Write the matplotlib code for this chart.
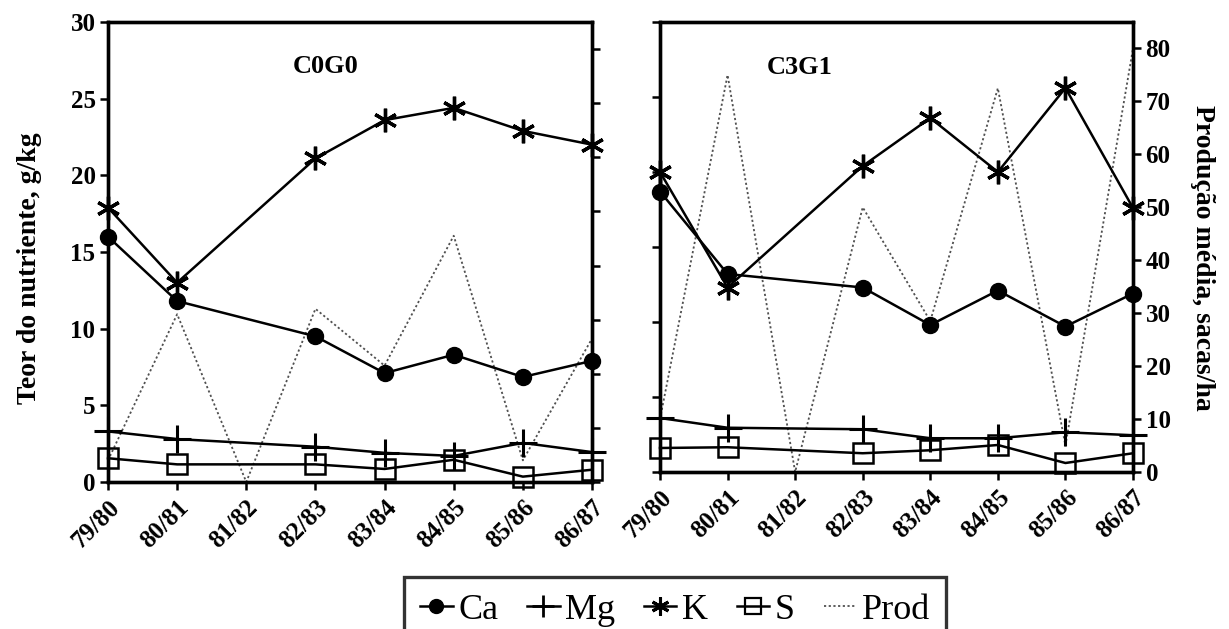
import numpy as np
import matplotlib
matplotlib.use("Agg")
import matplotlib.pyplot as plt
from matplotlib.lines import Line2D

plt.rcParams['font.family'] = ['Liberation Serif', 'DejaVu Serif']

years = ["79/80", "80/81", "81/82", "82/83", "83/84", "84/85", "85/86", "86/87"]

# Panel C0G0 (nutrients in g/kg; None = not sampled)
ca_c0g0 = [16.0, 11.8, None, 9.5, 7.1, 8.3, 6.85, 7.9]
mg_c0g0 = [3.3, 2.8, None, 2.3, 1.9, 1.7, 2.55, 1.95]
k_c0g0 = [17.9, 13.0, None, 21.1, 23.6, 24.4, 22.9, 22.0]
s_c0g0 = [1.55, 1.15, None, 1.15, 0.85, 1.45, 0.35, 0.8]
prod_c0g0 = [4, 31, 0, 32, 21.5, 45.5, 4, 26.5]

# Panel C3G1
ca_c3g1 = [18.7, 13.2, None, 12.3, 9.8, 12.1, 9.7, 11.9]
mg_c3g1 = [3.6, 2.95, None, 2.85, 2.25, 2.25, 2.65, 2.45]
k_c3g1 = [20.0, 12.3, None, 20.4, 23.6, 20.0, 25.6, 17.6]
s_c3g1 = [1.6, 1.65, None, 1.25, 1.45, 1.8, 0.6, 1.25]
prod_c3g1 = [10, 75, 0, 50, 28.5, 72.5, 5, 80]

FW, FH = 1229, 629
fig = plt.figure(figsize=(FW / 100, FH / 100), dpi=100)

def rect(x0, x1, ytop, ybot):
    return [x0 / FW, 1 - ybot / FH, (x1 - x0) / FW, (ybot - ytop) / FH]

ax1 = fig.add_axes(rect(108, 592, 22, 482))
ax2 = fig.add_axes(rect(660, 1133, 22, 472))

tick_font = dict(family='Liberation Serif', weight='bold', size=18)
PROD_COLOR = '#505050'
PROD_LS = (0, (1.2, 1.4))

def draw_panel(ax, ca, mg, k, s, prod, title, tx, show_left, show_right):
    x = np.arange(len(years))
    def xy(vals):
        xs = [xi for xi, v in zip(x, vals) if v is not None]
        ys = [v for v in vals if v is not None]
        return xs, ys
    axb = ax.twinx()
    axb.plot(x, prod, color=PROD_COLOR, linestyle=PROD_LS, lw=1.3, clip_on=False)
    axb.set_ylim(0, 85)
    axb.set_yticks(np.arange(0, 81, 10))
    ax.set_zorder(axb.get_zorder() + 1)
    ax.patch.set_visible(False)

    lw = 1.8
    ax.plot(*xy(ca), color='black', lw=lw, marker='o', ms=11.5, clip_on=False, label='Ca')
    ax.plot(*xy(mg), color='black', lw=lw, marker='+', ms=20, mew=2.2, clip_on=False, label='Mg')
    ax.plot(*xy(k), color='black', lw=lw, marker=(6, 2, 0), ms=17, mew=2.4, clip_on=False, label='K')
    ax.plot(*xy(s), color='black', lw=lw, marker='s', ms=14, mfc='none', mew=1.8, clip_on=False, label='S')

    ax.set_xlim(0, 7)
    ax.set_ylim(0, 30)
    ax.set_yticks(np.arange(0, 31, 5))
    ax.set_xticks(x)
    ax.set_xticklabels(years, rotation=45, ha='right', rotation_mode='anchor', **tick_font)
    if show_left:
        ax.set_yticklabels([str(v) for v in range(0, 31, 5)], **tick_font)
    else:
        ax.set_yticklabels([])
    if show_right:
        axb.set_yticklabels([str(v) for v in range(0, 81, 10)], **tick_font)
    else:
        axb.set_yticklabels([])
    for a in (ax, axb):
        for sp in a.spines.values():
            sp.set_linewidth(2.4)
        a.tick_params(direction='out', length=6, width=1.8, pad=3)
    ax.tick_params(axis='x', pad=4)
    ax.text(tx[0], tx[1], title, ha='center', va='center', fontsize=19,
            fontweight='bold', family='Liberation Serif')
    return axb

draw_panel(ax1, ca_c0g0, mg_c0g0, k_c0g0, s_c0g0, prod_c0g0, 'C0G0', (3.15, 27.1), True, False)
draw_panel(ax2, ca_c3g1, mg_c3g1, k_c3g1, s_c3g1, prod_c3g1, 'C3G1', (2.06, 27.0), False, True)

fig.text(30 / FW, 1 - 268 / FH, 'Teor do nutriente, g/kg', rotation=90, ha='center', va='center',
         fontsize=20, fontweight='bold', family='Liberation Serif')
fig.text(1203 / FW, 1 - 258 / FH, 'Produção média, sacas/ha', rotation=270, ha='center', va='center',
         fontsize=20, fontweight='bold', family='Liberation Serif')

handles = [
    Line2D([], [], color='black', lw=1.8, marker='o', ms=10),
    Line2D([], [], color='black', lw=1.8, marker='+', ms=16, mew=2.0),
    Line2D([], [], color='black', lw=1.8, marker=(6, 2, 0), ms=13, mew=2.2),
    Line2D([], [], color='black', lw=1.8, marker='s', ms=12, mfc='none', mew=1.6),
    Line2D([], [], color=PROD_COLOR, lw=1.3, linestyle=PROD_LS),
]
labels = ['Ca', 'Mg', 'K', 'S', 'Prod']
leg = fig.legend(handles, labels, loc='upper center', bbox_to_anchor=(675 / FW, 1 - 577 / FH),
                 ncol=5, frameon=True, fancybox=False, edgecolor='black',
                 prop=dict(family='Liberation Serif', size=26), handlelength=0.9,
                 handletextpad=0.15, columnspacing=0.8, borderpad=0.45, borderaxespad=0)
leg.get_frame().set_linewidth(2.4)

fig.savefig('out.png', dpi=100)
